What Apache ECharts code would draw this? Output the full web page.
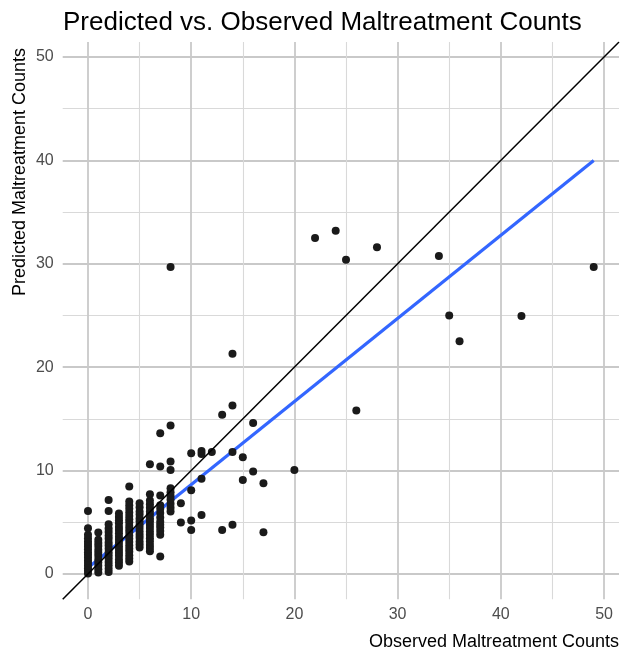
<!DOCTYPE html>
<html><head><meta charset="utf-8">
<script src="https://cdn.jsdelivr.net/npm/echarts@6/dist/echarts.min.js"></script>
<style>html,body{margin:0;padding:0;background:#fff}#c{width:621px;height:654px}</style>
</head><body><div id="c"></div>
<script>
// Observed counts (x) and predicted counts (y), one entry per point
const observed = [
  0,0,0,0,0,0,0,0,0,0,0,0,0,0,0,0,0,
  1,1,1,1,1,1,1,1,1,1,1,1,
  2,2,2,2,2,2,2,2,2,2,2,2,2,2,2,2,2,
  3,3,3,3,3,3,3,3,3,3,3,3,3,3,3,3,3,
  4,4,4,4,4,4,4,4,4,4,4,4,4,4,4,4,4,4,4,4,
  5,5,5,5,5,5,5,5,5,5,5,5,5,5,
  6,6,6,6,6,6,6,6,6,6,6,6,6,6,6,6,6,6,
  7,7,7,7,7,7,7,7,7,7,7,7,7,
  8,8,8,8,8,8,8,8,8,8,8,
  9,9,
  10,10,10,10,
  11,11,11,11,
  12,
  13,13,
  14,14,14,14,
  15,15,
  16,16,
  17,17,
  20,22,24,25,26,28,34,35,36,42,49
];
const predicted = [
  0.05,0.3,0.55,0.8,1.05,1.3,1.6,1.85,2.1,2.4,2.65,2.9,3.15,3.45,3.8,4.42,6.1,
  0.15,0.45,0.8,1.1,1.4,1.75,2.05,2.35,2.7,3.0,3.3,4.0,
  0.2,0.5,0.85,1.15,1.5,1.8,2.1,2.45,2.75,3.05,3.4,3.7,4.05,4.4,4.8,6.1,7.16,
  0.8,1.1,1.4,1.75,2.05,2.35,2.65,3.0,3.3,3.6,3.95,4.25,4.55,4.9,5.2,5.5,5.85,
  1.2,1.5,1.8,2.15,2.45,2.75,3.1,3.4,3.7,4.05,4.35,4.65,5.0,5.3,5.6,5.95,6.3,6.65,7.0,8.45,
  2.55,2.85,3.15,3.5,3.8,4.1,4.45,4.75,5.1,5.4,5.75,6.05,6.45,6.84,
  2.2,2.5,2.8,3.15,3.45,3.8,4.1,4.45,4.75,5.1,5.4,5.75,6.05,6.4,6.75,7.1,7.7,10.6,
  1.68,3.8,4.15,4.5,4.75,5.06,5.45,5.9,6.3,6.65,7.6,10.4,13.6,
  6.05,6.4,6.8,7.2,7.55,7.9,8.3,10.06,10.87,14.35,29.7,
  4.97,6.84,
  4.26,5.16,8.09,11.67,
  5.7,9.2,11.6,11.9,
  11.8,
  4.26,15.4,
  4.77,11.8,16.3,21.3,
  9.09,11.3,
  9.9,14.6,
  4.03,8.77,
  10.06,32.5,33.2,30.4,15.8,31.6,30.75,25.0,22.5,24.95,29.7
];
// Fitted linear trend (endpoints) and identity reference line
const fitX = [0, 49];
const fitY = [0.6, 40.0];
const identity = [-2.45, 51.45];
// Axis ticks
const majorTicks = [0, 10, 20, 30, 40, 50];
const minorTicks = [5, 15, 25, 35, 45];
const axisMin = -2.45, axisMax = 51.45;

const FONT = "'Liberation Sans', Arial, Helvetica, sans-serif";
const points = observed.map((x, i) => [x, predicted[i]]);
const fitLine = fitX.map((x, i) => [x, fitY[i]]);
const idLine = identity.map(v => [v, v]);

function mainAxis(isX) {
  return {
    type: 'value', min: axisMin, max: axisMax, gridIndex: 0,
    axisLine: {show: false},
    axisTick: {show: false, customValues: majorTicks},
    axisLabel: {show: true, customValues: majorTicks, color: '#4d4d4d', fontSize: 16,
      fontFamily: FONT, margin: isX ? 7 : 9},
    splitLine: {show: true, lineStyle: {color: '#c9c9c9', width: 1.8}},
    minorSplitLine: {show: false}
  };
}
function minorAxis() {
  return {
    type: 'value', min: axisMin, max: axisMax, gridIndex: 0,
    axisLine: {show: false},
    axisTick: {show: false, customValues: minorTicks},
    axisLabel: {show: false, customValues: minorTicks},
    splitLine: {show: true, lineStyle: {color: '#d9d9d9', width: 1.1}}
  };
}

const chart = echarts.init(document.getElementById('c'), null, {renderer: 'canvas'});
chart.setOption({
  animation: false,
  backgroundColor: '#ffffff',
  title: {
    text: 'Predicted vs. Observed Maltreatment Counts',
    left: 58, top: 5,
    textStyle: {fontFamily: FONT, fontSize: 26, fontWeight: 'normal', color: '#000'}
  },
  grid: {left: 62.7, right: 2, top: 42, bottom: 54.7},
  xAxis: [mainAxis(true), minorAxis()],
  yAxis: [mainAxis(false), minorAxis()],
  graphic: [
    {type: 'text', x: 619, y: 642, style: {text: 'Observed Maltreatment Counts',
      fontFamily: FONT, fontSize: 18, fill: '#000', textAlign: 'right', textVerticalAlign: 'middle'}},
    {type: 'text', x: 20, y: 172, rotation: Math.PI / 2, style: {text: 'Predicted Maltreatment Counts',
      fontFamily: FONT, fontSize: 18, fill: '#000', textAlign: 'center', textVerticalAlign: 'middle'}}
  ],
  series: [
    {type: 'line', data: fitLine, xAxisIndex: 0, yAxisIndex: 0, showSymbol: false, z: 2,
      lineStyle: {color: '#3366FF', width: 3.2}, silent: true},
    {type: 'scatter', data: points, xAxisIndex: 0, yAxisIndex: 0, symbolSize: 8, z: 3,
      itemStyle: {color: '#1a1a1a', opacity: 1}},
    {type: 'line', data: idLine, xAxisIndex: 0, yAxisIndex: 0, showSymbol: false, z: 4,
      lineStyle: {color: '#000', width: 1.5}, silent: true}
  ]
});
</script>
</body></html>
